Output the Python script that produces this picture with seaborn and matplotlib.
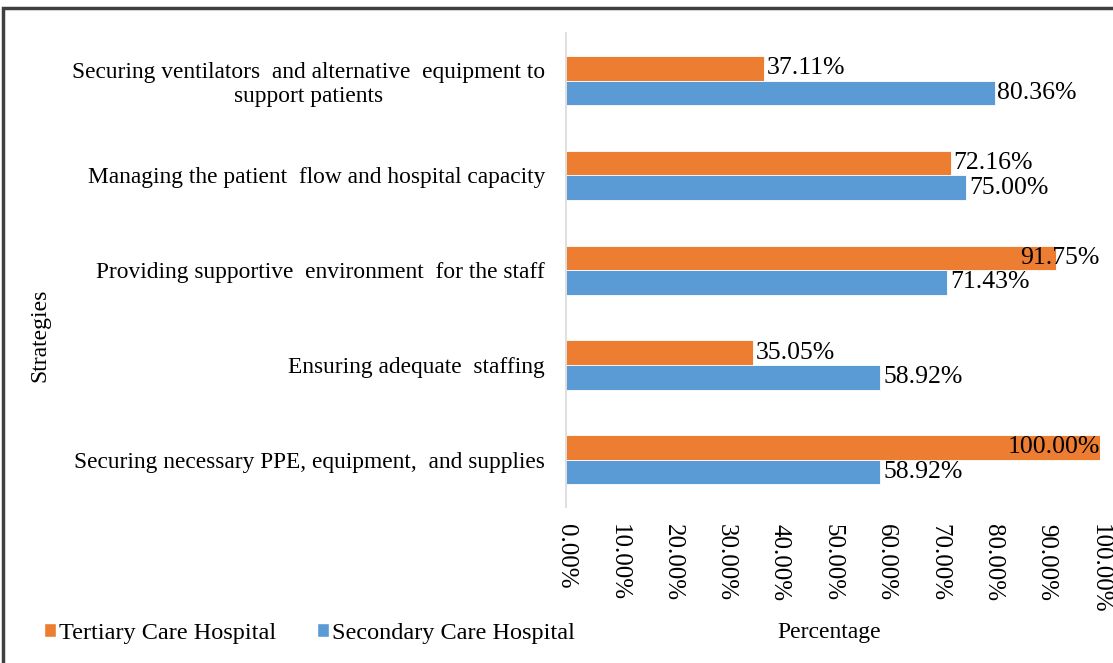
import pandas as pd
import matplotlib.pyplot as plt
import seaborn as sns
from matplotlib.patches import Rectangle, Patch
from matplotlib.ticker import PercentFormatter

strategies = [
    "Securing ventilators  and alternative  equipment to\nsupport patients",
    "Managing the patient  flow and hospital capacity",
    "Providing supportive  environment  for the staff",
    "Ensuring adequate  staffing",
    "Securing necessary PPE, equipment,  and supplies",
]
tertiary = [37.11, 72.16, 91.75, 35.05, 100.00]
secondary = [80.36, 75.00, 71.43, 58.92, 58.92]
groups = ["Tertiary Care Hospital", "Secondary Care Hospital"]
colors = ["#ED7D31", "#5B9BD5"]

df = pd.DataFrame({
    "Strategy": strategies * 2,
    "Value": [v / 100 for v in tertiary + secondary],
    "Group": [groups[0]] * len(strategies) + [groups[1]] * len(strategies),
})

sns.set_theme(style="white")
plt.rcParams["font.family"] = ["Liberation Serif", "DejaVu Serif"]
plt.rcParams["text.color"] = "black"
plt.rcParams["axes.labelcolor"] = "black"
plt.rcParams["xtick.color"] = "black"
plt.rcParams["ytick.color"] = "black"

fig = plt.figure(figsize=(11.13, 6.63), dpi=100)
ax = fig.add_axes([0.5085, 0.235, 0.4795, 0.715])

sns.barplot(data=df, y="Strategy", x="Value", hue="Group", hue_order=groups,
            palette=colors, orient="h", width=0.52, saturation=1,
            edgecolor="white", linewidth=0.6, legend=False, ax=ax)

ax.set_xlim(0, 1.0)
ax.set_xticks([i / 10 for i in range(11)])
ax.xaxis.set_major_formatter(PercentFormatter(1.0, decimals=2))
ax.tick_params(axis="x", labelrotation=-90, labelsize=18, length=0, pad=12)
ax.tick_params(axis="y", labelsize=16.8, length=0, pad=15)
for lbl in ax.get_yticklabels():
    lbl.set_multialignment("center")

for side in ["top", "right", "bottom"]:
    ax.spines[side].set_visible(False)
ax.spines["left"].set_color("#D9D9D9")
ax.spines["left"].set_linewidth(1.2)

ax.set_xlabel("Percentage", fontsize=17)
ax.xaxis.set_label_coords(0.494, -0.243)
ax.set_ylabel("Strategies", fontsize=17)
ax.yaxis.set_label_coords(-0.966, 0.363)

# value labels
for cont in ax.containers:
    for bar in cont:
        w = bar.get_width()
        yc = bar.get_y() + bar.get_height() / 2
        txt = f"{w * 100:.2f}%"
        if w > 0.9:
            ax.text(1.0, yc, txt, ha="right", va="center", fontsize=18.5)
        else:
            ax.text(w + 0.005, yc, txt, ha="left", va="center", fontsize=18.5)

handles = [Patch(facecolor=c, label=g) for c, g in zip(colors, groups)]
fig.legend(handles=handles, loc="center left", bbox_to_anchor=(44 / 1113, 0.045),
           ncol=2, frameon=False, fontsize=17.5, handlelength=0.5,
           handleheight=0.5, handletextpad=0.1, columnspacing=1.7,
           borderaxespad=0, borderpad=0)

fig.patches.append(Rectangle((3 / 1113, -0.05), 1.1, 1.05 - 8 / 663,
                             transform=fig.transFigure, fill=False,
                             edgecolor="#404040", linewidth=2.5))

plt.savefig("out.png", dpi=100)
